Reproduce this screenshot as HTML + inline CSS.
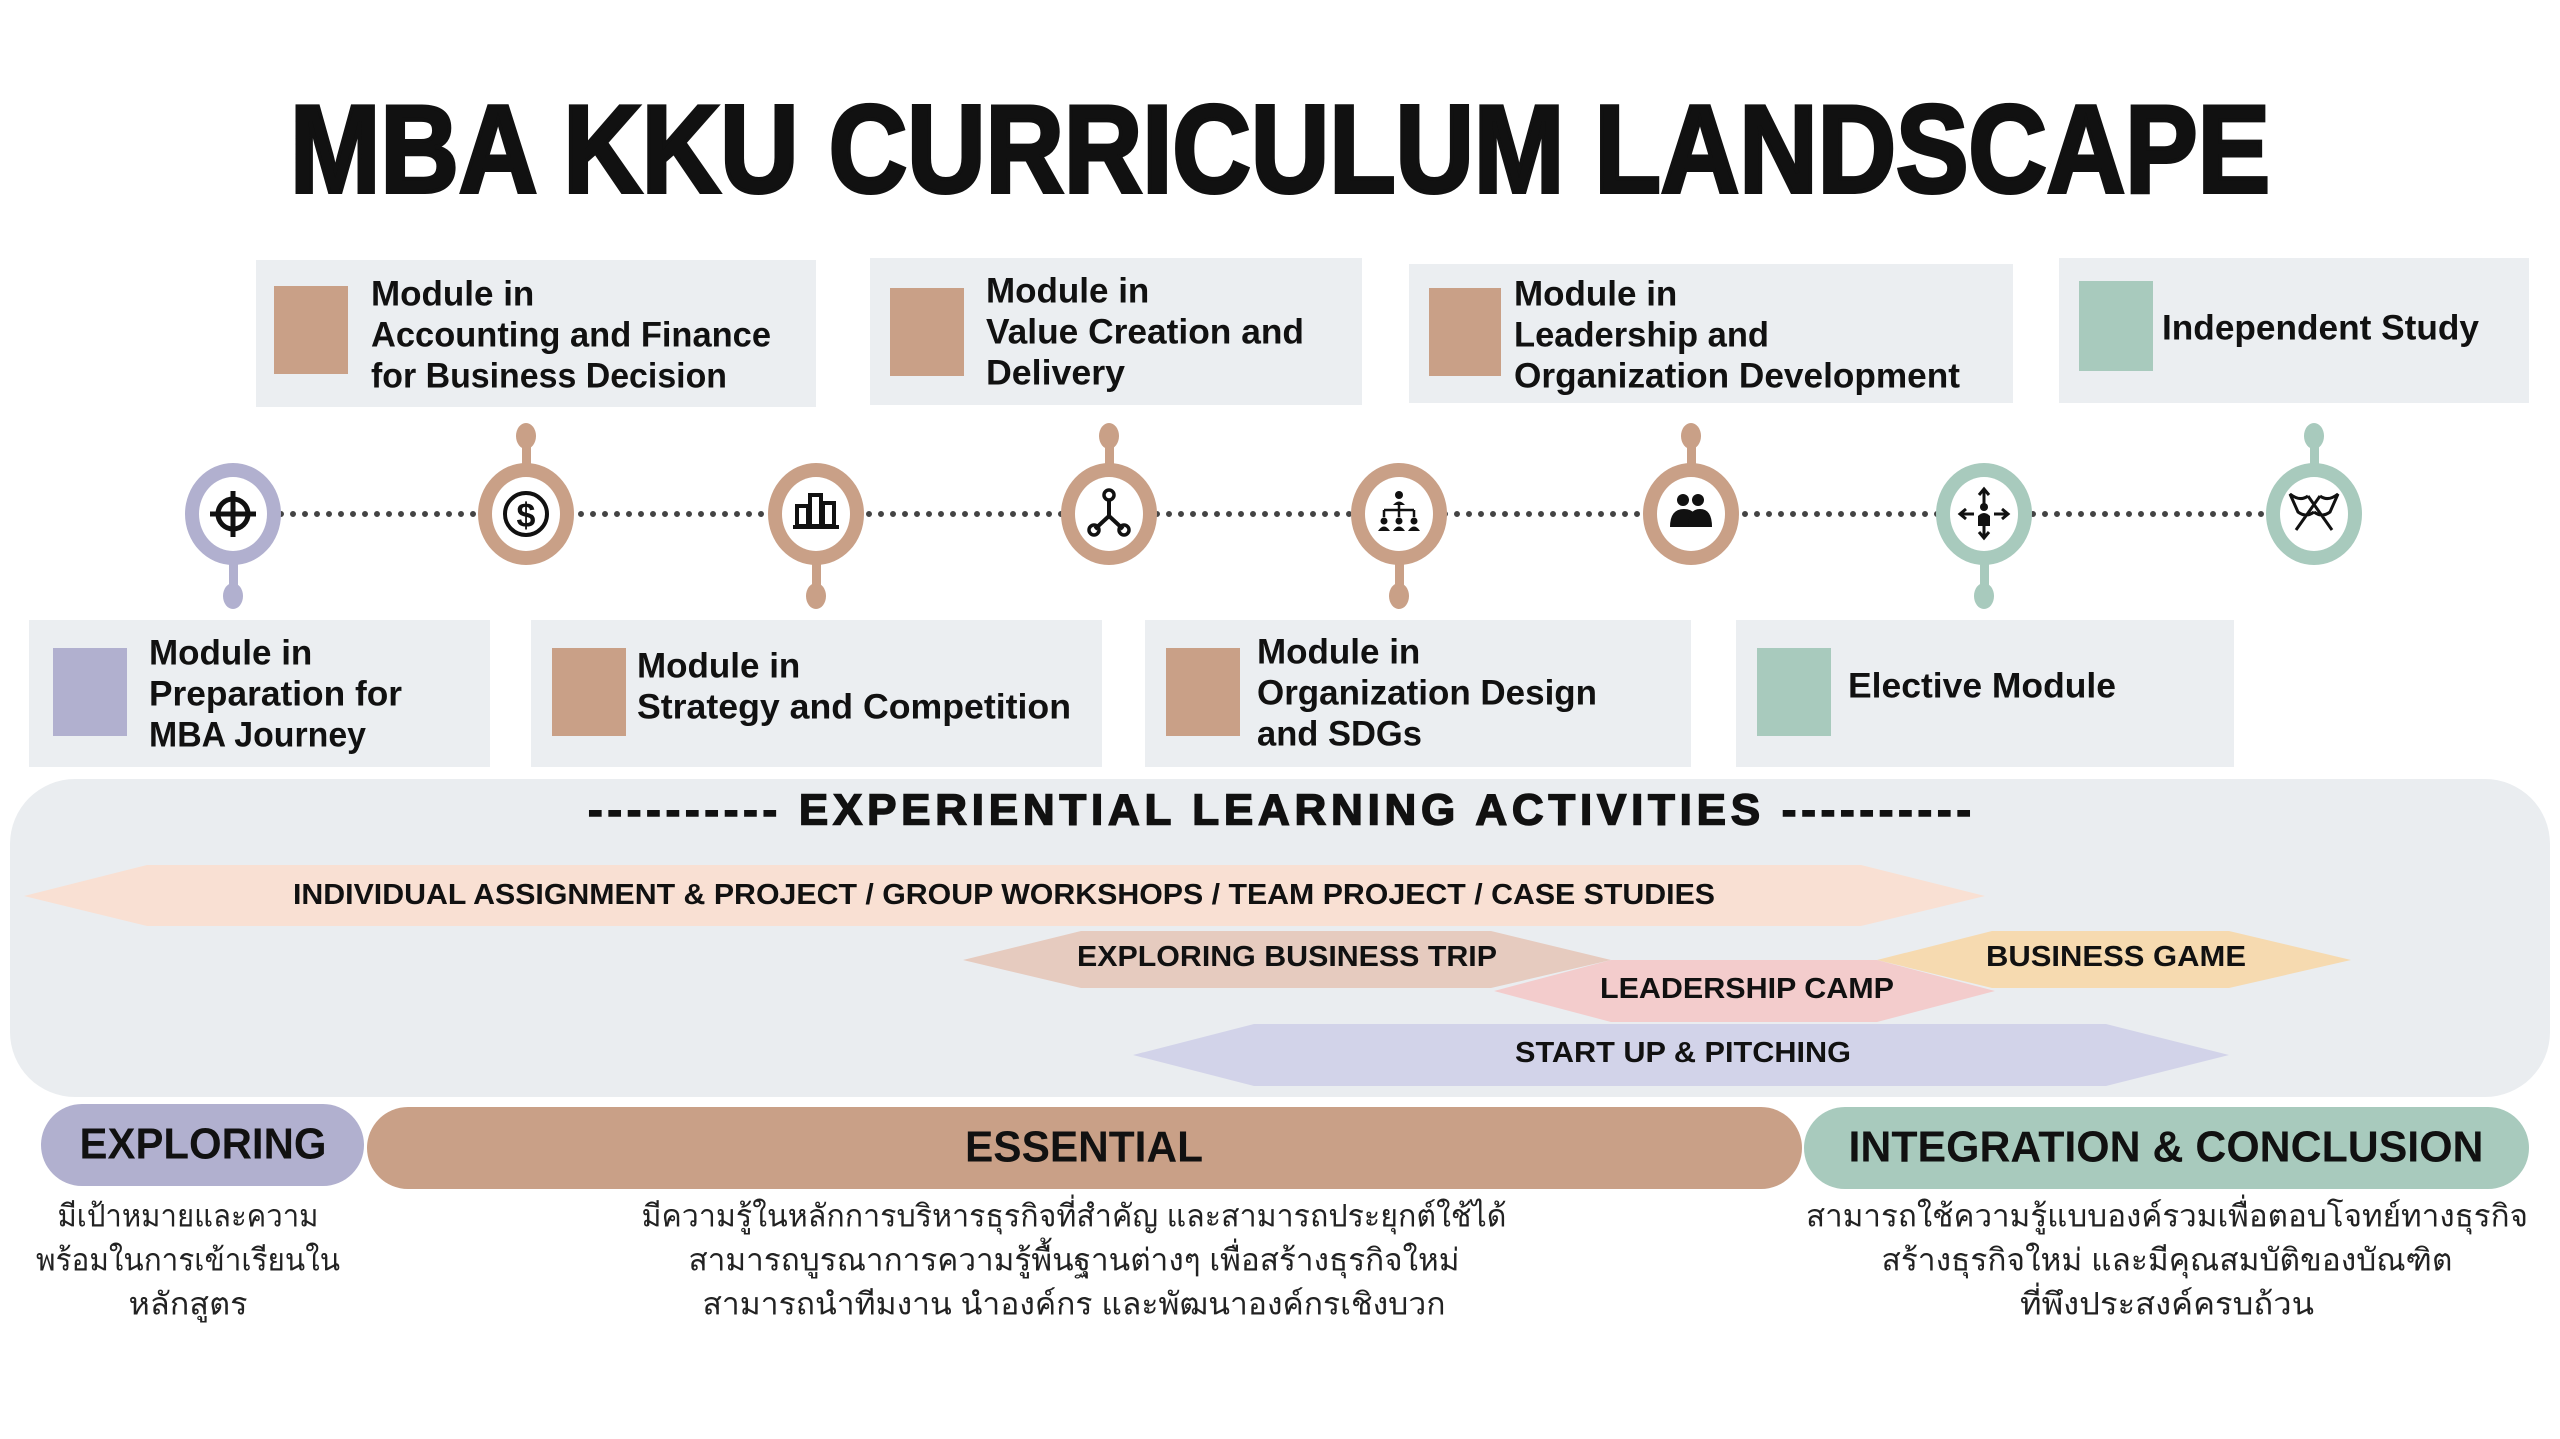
<!DOCTYPE html>
<html><head><meta charset="utf-8"><style>
html,body{margin:0;padding:0;background:#fff;}
svg{display:block;}
text{font-family:"Liberation Sans","DejaVu Sans",sans-serif;fill:#111;}
.b{font-weight:bold;}
.th{font-family:"Liberation Sans","DejaVu Sans","Noto Sans CJK SC",sans-serif;fill:#222;}
</style></head><body>
<svg width="2560" height="1439" viewBox="0 0 2560 1439" xmlns="http://www.w3.org/2000/svg">
<rect width="2560" height="1439" fill="#fff"/>
<!-- Title -->
<text x="290" y="192" class="b" font-size="124" textLength="1980" lengthAdjust="spacingAndGlyphs" stroke="#111" stroke-width="4">MBA KKU CURRICULUM LANDSCAPE</text>

<!-- Top boxes -->
<g font-size="35" class="b" dominant-baseline="central">
<rect x="256" y="260" width="560" height="147" fill="#ebeef1"/>
<rect x="274" y="286" width="74" height="88" fill="#c9a087"/>
<text x="371" y="294" class="b">Module in</text>
<text x="371" y="335" class="b" textLength="400" lengthAdjust="spacingAndGlyphs">Accounting and Finance</text>
<text x="371" y="376" class="b" textLength="356" lengthAdjust="spacingAndGlyphs">for Business Decision</text>

<rect x="870" y="258" width="492" height="147" fill="#ebeef1"/>
<rect x="890" y="288" width="74" height="88" fill="#c9a087"/>
<text x="986" y="291" class="b">Module in</text>
<text x="986" y="332" class="b" textLength="318" lengthAdjust="spacingAndGlyphs">Value Creation and</text>
<text x="986" y="373" class="b" textLength="139" lengthAdjust="spacingAndGlyphs">Delivery</text>

<rect x="1409" y="264" width="604" height="139" fill="#ebeef1"/>
<rect x="1429" y="288" width="72" height="88" fill="#c9a087"/>
<text x="1514" y="294" class="b">Module in</text>
<text x="1514" y="335" class="b" textLength="255" lengthAdjust="spacingAndGlyphs">Leadership and</text>
<text x="1514" y="376" class="b" textLength="446" lengthAdjust="spacingAndGlyphs">Organization Development</text>

<rect x="2059" y="258" width="470" height="145" fill="#ebeef1"/>
<rect x="2079" y="281" width="74" height="90" fill="#a8cabd"/>
<text x="2162" y="328" class="b" textLength="317" lengthAdjust="spacingAndGlyphs">Independent Study</text>

<!-- Bottom boxes -->
<rect x="29" y="620" width="461" height="147" fill="#ebeef1"/>
<rect x="53" y="648" width="74" height="88" fill="#b1b0cf"/>
<text x="149" y="653" class="b">Module in</text>
<text x="149" y="694" class="b" textLength="253" lengthAdjust="spacingAndGlyphs">Preparation for</text>
<text x="149" y="735" class="b" textLength="217" lengthAdjust="spacingAndGlyphs">MBA Journey</text>

<rect x="531" y="620" width="571" height="147" fill="#ebeef1"/>
<rect x="552" y="648" width="74" height="88" fill="#c9a087"/>
<text x="637" y="666" class="b">Module in</text>
<text x="637" y="707" class="b" textLength="434" lengthAdjust="spacingAndGlyphs">Strategy and Competition</text>

<rect x="1145" y="620" width="546" height="147" fill="#ebeef1"/>
<rect x="1166" y="648" width="74" height="88" fill="#c9a087"/>
<text x="1257" y="652" class="b">Module in</text>
<text x="1257" y="693" class="b" textLength="340" lengthAdjust="spacingAndGlyphs">Organization Design</text>
<text x="1257" y="734" class="b" textLength="165" lengthAdjust="spacingAndGlyphs">and SDGs</text>

<rect x="1736" y="620" width="498" height="147" fill="#ebeef1"/>
<rect x="1757" y="648" width="74" height="88" fill="#a8cabd"/>
<text x="1848" y="686" class="b" textLength="268" lengthAdjust="spacingAndGlyphs">Elective Module</text>
</g>

<!-- Timeline dotted line -->
<line x1="233" y1="514" x2="2314" y2="514" stroke="#444" stroke-width="6" stroke-linecap="round" stroke-dasharray="0 12"/>

<!-- Nodes -->
<g>
<rect x="229" y="550" width="9" height="46" fill="#b1b0cf"/><ellipse cx="233" cy="596" rx="10" ry="13" fill="#b1b0cf"/>
<ellipse cx="233" cy="514" rx="48" ry="51" fill="#b1b0cf"/><ellipse cx="233" cy="514" rx="34" ry="37" fill="#fff"/>
<rect x="522" y="441" width="9" height="40" fill="#c9a087"/><ellipse cx="526" cy="436" rx="10" ry="13" fill="#c9a087"/>
<ellipse cx="526" cy="514" rx="48" ry="51" fill="#c9a087"/><ellipse cx="526" cy="514" rx="34" ry="37" fill="#fff"/>
<rect x="812" y="550" width="9" height="46" fill="#c9a087"/><ellipse cx="816" cy="596" rx="10" ry="13" fill="#c9a087"/>
<ellipse cx="816" cy="514" rx="48" ry="51" fill="#c9a087"/><ellipse cx="816" cy="514" rx="34" ry="37" fill="#fff"/>
<rect x="1105" y="441" width="9" height="40" fill="#c9a087"/><ellipse cx="1109" cy="436" rx="10" ry="13" fill="#c9a087"/>
<ellipse cx="1109" cy="514" rx="48" ry="51" fill="#c9a087"/><ellipse cx="1109" cy="514" rx="34" ry="37" fill="#fff"/>
<rect x="1395" y="550" width="9" height="46" fill="#c9a087"/><ellipse cx="1399" cy="596" rx="10" ry="13" fill="#c9a087"/>
<ellipse cx="1399" cy="514" rx="48" ry="51" fill="#c9a087"/><ellipse cx="1399" cy="514" rx="34" ry="37" fill="#fff"/>
<rect x="1687" y="441" width="9" height="40" fill="#c9a087"/><ellipse cx="1691" cy="436" rx="10" ry="13" fill="#c9a087"/>
<ellipse cx="1691" cy="514" rx="48" ry="51" fill="#c9a087"/><ellipse cx="1691" cy="514" rx="34" ry="37" fill="#fff"/>
<rect x="1980" y="550" width="9" height="46" fill="#a8cabd"/><ellipse cx="1984" cy="596" rx="10" ry="13" fill="#a8cabd"/>
<ellipse cx="1984" cy="514" rx="48" ry="51" fill="#a8cabd"/><ellipse cx="1984" cy="514" rx="34" ry="37" fill="#fff"/>
<rect x="2310" y="441" width="9" height="40" fill="#a8cabd"/><ellipse cx="2314" cy="436" rx="10" ry="13" fill="#a8cabd"/>
<ellipse cx="2314" cy="514" rx="48" ry="51" fill="#a8cabd"/><ellipse cx="2314" cy="514" rx="34" ry="37" fill="#fff"/>
</g>

<!-- Icons -->
<g stroke="#111" fill="none" stroke-width="5">
<circle cx="233" cy="514" r="15"/>
<line x1="233" y1="491" x2="233" y2="537"/><line x1="210" y1="514" x2="256" y2="514"/>
<circle cx="526" cy="514" r="21" stroke-width="4"/>
<rect x="797" y="506" width="11" height="20" stroke-width="4"/><rect x="810" y="495" width="11" height="31" stroke-width="4"/><rect x="823" y="503" width="11" height="23" stroke-width="4"/>
<line x1="793" y1="527" x2="839" y2="527" stroke-width="4"/>
<line x1="1109" y1="500" x2="1109" y2="516" stroke-width="4"/><line x1="1109" y1="516" x2="1095" y2="529" stroke-width="4"/><line x1="1109" y1="516" x2="1123" y2="529" stroke-width="4"/>
<circle cx="1109" cy="495" r="5" stroke-width="3.5"/><circle cx="1094" cy="530" r="5" stroke-width="3.5"/><circle cx="1124" cy="530" r="5" stroke-width="3.5"/>
<line x1="1399" y1="502" x2="1399" y2="510" stroke-width="2.5"/><line x1="1384" y1="510" x2="1414" y2="510" stroke-width="2.5"/>
<line x1="1384" y1="510" x2="1384" y2="517" stroke-width="2.5"/><line x1="1399" y1="510" x2="1399" y2="517" stroke-width="2.5"/><line x1="1414" y1="510" x2="1414" y2="517" stroke-width="2.5"/>
<path d="M1984 490 v14 M1979 495 l5 -6 5 6 M1984 524 v14 M1979 532 l5 6 5 -6 M1960 514 h14 M1966 509 l-6 5 6 5 M1994 514 h14 M2002 509 l6 5 -6 5" stroke-width="3"/>
<path d="M2296 530 l24 -34 M2332 530 l-24 -34 M2320 496 q8 6 18 -2 l-8 18 q-8 6 -16 0 M2308 496 q-8 6 -18 -2 l8 18 q8 6 16 0" stroke-width="3"/>
</g>
<g fill="#111">
<text x="526" y="527" font-size="34" class="b" text-anchor="middle">$</text>
<circle cx="1399" cy="495" r="4"/><path d="M1393 505 q6 -7 12 0z"/>
<circle cx="1384" cy="521" r="3.5"/><path d="M1378 531 q6 -9 12 0z"/>
<circle cx="1399" cy="521" r="3.5"/><path d="M1393 531 q6 -9 12 0z"/>
<circle cx="1414" cy="521" r="3.5"/><path d="M1408 531 q6 -9 12 0z"/>
<circle cx="1683" cy="500" r="6"/><circle cx="1698" cy="500" r="6"/>
<path d="M1670 527 q0 -18 14 -18 q14 0 14 18z"/><path d="M1688 527 q0 -18 12 -18 q12 0 12 18z"/>
<circle cx="1984" cy="507" r="4"/><path d="M1978 526 v-10 q6 -6 12 0 v10z"/>
</g>

<!-- Experiential panel -->
<rect x="10" y="779" width="2540" height="318" rx="65" fill="#eaedf0"/>
<text x="588" y="810" class="b" font-size="44" dominant-baseline="central" textLength="1383" lengthAdjust="spacing" stroke="#111" stroke-width="1.5">---------- EXPERIENTIAL LEARNING ACTIVITIES ----------</text>

<polygon points="24,896 147,865 1861,865 1985,896 1861,926 147,926" fill="#f9e0d3"/>
<polygon points="963,960 1081,931 1491,931 1611,960 1491,988 1081,988" fill="#e6cbbf"/>
<polygon points="1877,960 1992,931 2229,931 2351,960 2229,988 1992,988" fill="#f6dab0"/>
<polygon points="1494,991 1611,960 1877,960 1995,991 1877,1022 1611,1022" fill="#f3cccc"/>
<polygon points="1133,1055 1254,1024 2106,1024 2229,1055 2106,1086 1254,1086" fill="#d2d3e9"/>

<g font-size="29" class="b" dominant-baseline="central" text-anchor="middle">
<text x="1004" y="895" class="b" textLength="1422" lengthAdjust="spacingAndGlyphs">INDIVIDUAL ASSIGNMENT &amp; PROJECT / GROUP WORKSHOPS / TEAM PROJECT / CASE STUDIES</text>
<text x="1287" y="957" class="b" textLength="420" lengthAdjust="spacingAndGlyphs">EXPLORING BUSINESS TRIP</text>
<text x="1747" y="989" class="b" textLength="294" lengthAdjust="spacingAndGlyphs">LEADERSHIP CAMP</text>
<text x="2116" y="957" class="b" textLength="260" lengthAdjust="spacingAndGlyphs">BUSINESS GAME</text>
<text x="1683" y="1053" class="b" textLength="336" lengthAdjust="spacingAndGlyphs">START UP &amp; PITCHING</text>
</g>

<!-- Phase pills -->
<rect x="41" y="1104" width="323" height="82" rx="41" fill="#b1b0cf"/>
<rect x="367" y="1107" width="1435" height="82" rx="41" fill="#c9a087"/>
<rect x="1804" y="1107" width="725" height="82" rx="41" fill="#a8cabd"/>
<g font-size="44" class="b" dominant-baseline="central" text-anchor="middle">
<text x="203" y="1144" class="b" textLength="247" lengthAdjust="spacingAndGlyphs">EXPLORING</text>
<text x="1084" y="1147" class="b" textLength="238" lengthAdjust="spacingAndGlyphs">ESSENTIAL</text>
<text x="2166" y="1147" class="b" textLength="635" lengthAdjust="spacingAndGlyphs">INTEGRATION &amp; CONCLUSION</text>
</g>

<!-- Thai descriptions -->
<g font-size="31" dominant-baseline="central" text-anchor="middle">
<text class="th" x="188" y="1216" textLength="261" lengthAdjust="spacingAndGlyphs">มีเป้าหมายและความ</text>
<text class="th" x="188" y="1260" textLength="304" lengthAdjust="spacingAndGlyphs">พร้อมในการเข้าเรียนใน</text>
<text class="th" x="188" y="1304" textLength="119" lengthAdjust="spacingAndGlyphs">หลักสูตร</text>
<text class="th" x="1074" y="1216" textLength="865" lengthAdjust="spacingAndGlyphs">มีความรู้ในหลักการบริหารธุรกิจที่สำคัญ และสามารถประยุกต์ใช้ได้</text>
<text class="th" x="1074" y="1260" textLength="771" lengthAdjust="spacingAndGlyphs">สามารถบูรณาการความรู้พื้นฐานต่างๆ เพื่อสร้างธุรกิจใหม่</text>
<text class="th" x="1074" y="1304" textLength="743" lengthAdjust="spacingAndGlyphs">สามารถนำทีมงาน นำองค์กร และพัฒนาองค์กรเชิงบวก</text>
<text class="th" x="2167" y="1216" textLength="722" lengthAdjust="spacingAndGlyphs">สามารถใช้ความรู้แบบองค์รวมเพื่อตอบโจทย์ทางธุรกิจ</text>
<text class="th" x="2167" y="1260" textLength="571" lengthAdjust="spacingAndGlyphs">สร้างธุรกิจใหม่ และมีคุณสมบัติของบัณฑิต</text>
<text class="th" x="2167" y="1304" textLength="294" lengthAdjust="spacingAndGlyphs">ที่พึงประสงค์ครบถ้วน</text>
</g>
</svg>
</body></html>
